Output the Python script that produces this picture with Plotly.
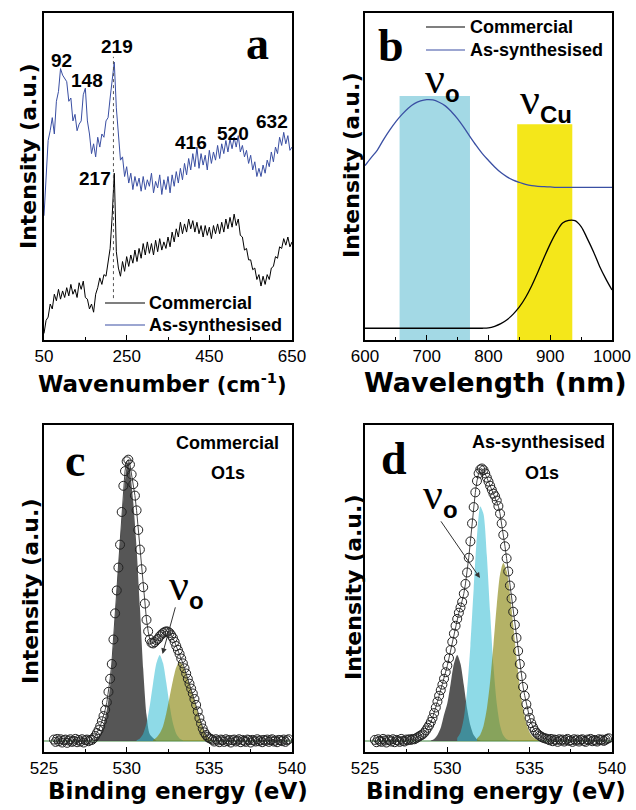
import plotly.graph_objects as go

W, H = 636, 810

# ---------------- Panel a : Raman ----------------
raman_wn = list(range(50, 651, 5))
raman_as_synth = [
    38, 48, 61, 64, 68, 63, 73, 76, 83, 81,
    80, 79, 73, 74, 67, 69, 64, 66, 67, 75,
    77, 67, 63, 57, 60, 56, 62, 59, 63, 62,
    67, 68, 74, 79, 85, 71, 63, 55, 56, 50,
    53, 48, 51, 46, 50, 47, 49.5, 45.5, 50, 46,
    49, 47, 51, 45, 48.5, 46.5, 50.5, 44.5, 49, 46,
    50, 45, 50.5, 47, 51.5, 48, 52.5, 49, 54, 50.5,
    55.5, 52, 57, 53, 59, 52.5, 57, 53.5, 56.5, 52,
    58, 54, 57.5, 55, 59.5, 55.5, 60, 57, 61, 57.5,
    61.5, 58.5, 62, 59, 62.5, 57.5, 59.5, 56, 58, 54,
    56.5, 52, 54.5, 50, 52.5, 50, 53.5, 51, 55, 53,
    57.5, 54.5, 59, 57, 62, 59.5, 63.5, 60, 62.5, 58, 59]
raman_commercial = [
    2, 6, 7, 11, 9.5, 14, 12, 15.5, 12.5, 15,
    13, 16, 13.5, 17, 14, 15.5, 13, 17.5, 15.5, 18,
    13, 12.5, 9.5, 11, 8.5, 14, 16, 19, 17, 20,
    19.5, 24, 28, 38, 51, 27, 22, 19.5, 24, 21,
    25.5, 22.5, 26, 23.5, 27.5, 24, 28, 25, 29.5, 26,
    30, 26.5, 29.5, 26, 30.5, 27, 31, 27.5, 30, 28,
    31.5, 28.5, 33, 30, 34, 31.5, 36, 32.5, 35.5, 33,
    37, 34, 36.5, 33, 36, 32.5, 35, 31.5, 35, 32,
    34.5, 31, 35, 32.5, 35.5, 32.5, 36, 33, 37, 34,
    37.5, 34.5, 38.5, 35, 37, 32, 31.5, 27.5, 28, 24.5,
    24.5, 21.5, 22, 18.5, 20, 16.5, 19.5, 17, 20, 18.5,
    22, 22.5, 25.5, 25, 28.5, 28, 31, 29, 31.5, 28.5, 30]
raman_peak_line_wn = 218
raman_peak_line_span = [12.8, 86.6]
raman_ticks = [50, 250, 450, 650]

# ---------------- Panel b : UV-Vis-NIR ----------------
uv_wl = list(range(600, 1001, 10))
uv_as_synth = [53.3, 55.8, 58.1, 61.3, 64.2, 66.8, 69.0, 70.9, 72.3, 73.1,
               73.5, 73.4, 72.7, 71.6, 69.8, 67.6, 65.0, 62.2, 59.5, 57.0,
               54.9, 52.9, 51.2, 49.9, 48.9, 48.2, 47.6, 47.2, 47.0, 46.9,
               46.8, 46.7, 46.7, 46.7, 46.7, 46.7, 46.7, 46.7, 46.7, 46.7, 46.7]
uv_commercial = [3.6, 3.6, 3.6, 3.6, 3.6, 3.6, 3.6, 3.6, 3.6, 3.6,
                 3.6, 3.6, 3.6, 3.6, 3.6, 3.6, 3.6, 3.6, 3.6, 3.6,
                 3.7, 4.2, 5.0, 6.2, 7.9, 10.1, 13.0, 16.6, 20.8, 25.2,
                 29.4, 33.0, 35.8, 36.6, 36.5, 34.7, 31.0, 27.0, 22.5, 18.7, 15.3]
band_vo = [656, 770, 74.6]
band_vcu = [846.5, 935.7, 66.0]

# ---------------- Panels c, d : XPS O1s ----------------
xps_c_left = [0.4, -0.3, 0.6, -0.1, 0.5, -0.5, 0.2, 0.4, -0.6, 0.1, 0.5, -0.3,
              0.0, 0.6, -0.4, 0.3, -0.2, 0.5, -0.5, 0.2, 0.4, -0.1, 0.3]
xps_c_peak = [0.3, 0.8, 1.5, 2.4, 3.3, 4.5, 6.0, 7.6, 9.5, 11.8,
              15, 19, 23.5, 31, 39, 46, 53, 60, 70, 78,
              82.5, 85.5, 86, 84.5, 81.5, 78.5, 75, 70.5, 64.5, 58.5,
              52.5, 47, 42, 37, 33.5, 31, 30, 29.8, 30.2, 30.8,
              31.2, 32, 32.5, 33, 33.3, 33.5, 33.4, 33, 32.3, 31.5,
              30.3, 29, 27.8, 26.6, 25.2, 23.7, 22.2, 20.6, 19, 17.5,
              16, 14.5, 12.8, 11, 9, 7, 5.3, 3.8, 2.6, 1.8,
              1.2, 0.8]
xps_c_right = [0.6, 0.3, -0.2, 0.5, 0.1, -0.4, 0.4, 0.2, -0.3, 0.5,
               -0.1, 0.3, -0.5, 0.2, 0.4, -0.2, 0.1, 0.5, -0.4, 0.3,
               0.0, -0.3, 0.4, 0.2, -0.5, 0.3, 0.1, -0.2, 0.5, -0.1,
               0.2, -0.4, 0.3, 0.0, 0.4, -0.3, 0.2, 0.5, -0.2, 0.1,
               -0.4, 0.3, 0.2, -0.1, 0.4, -0.3, 0.2, 0.5]
c_gray_x = [528.0, 528.4, 528.8, 529.0, 529.2, 529.4, 529.6, 529.8, 530.0, 530.1,
            530.2, 530.4, 530.6, 530.8, 531.0, 531.2, 531.4, 531.8]
c_gray_y = [0, 2, 9.5, 17, 30, 45, 60, 74, 84, 85.5, 83, 73, 59, 41, 22, 8, 2, 0]
c_cyan_x = [530.6, 530.8, 531.0, 531.2, 531.4, 531.6, 531.8, 532.0, 532.2, 532.4,
            532.6, 532.8, 533.0, 533.2, 533.4]
c_cyan_y = [0.2, 0.75, 2.2, 5.4, 10.8, 17.7, 23.8, 26.3, 23.8, 17.7, 10.8, 5.4, 2.2, 0.75, 0.2]
c_olive_x = [531.6, 531.8, 532.0, 532.2, 532.4, 532.6, 532.8, 533.0, 533.2, 533.4,
             533.6, 533.8, 534.0, 534.2, 534.4, 534.6, 534.8, 535.0, 535.2]
c_olive_y = [0.3, 1.0, 2.3, 4.5, 8.5, 13.5, 18.5, 22.5, 24.3, 23, 20.5, 17.5, 14.5, 11,
             7.5, 4.3, 2, 0.8, 0.2]

xps_d_left = [0.3, -0.4, 0.5, 0.0, -0.3, 0.6, 0.1, -0.5, 0.4, 0.2, -0.2, 0.5,
              -0.4, 0.3, 0.1, -0.3, 0.6, 0.0, -0.2, 0.4, 0.2, 0.5, 0.3, 0.6]
xps_d_peak = [0.5, 0.8, 1.1, 1.4, 1.7, 2.0, 2.5, 3.2, 4.0, 4.8,
              5.8, 7.0, 8.5, 10.2, 12.0, 13.8, 15.5, 17.2, 19.0, 21.0,
              23.0, 25.3, 27.8, 30.3, 32.8, 35.2, 37.3, 39.2, 40.8, 42.5,
              45.0, 48.0, 51.5, 56.0, 61.0, 66.5, 71.5, 76.0, 79.5, 81.8,
              83.0, 83.3, 82.8, 81.8, 80.5, 79.3, 78.0, 76.8, 75.6, 74.8,
              73.5, 71.8, 69.5, 66.5, 63.0, 59.5, 55.8, 51.8, 47.5, 43.5,
              39.5, 35.5, 31.5, 27.5, 23.5, 19.8, 16.5, 13.8, 11.2, 9.0,
              7.0, 5.4, 4.2, 3.2, 2.5, 2.0, 1.6, 1.3, 1.0, 0.8,
              0.7]
xps_d_right = [0.5, 0.2, 0.6, -0.1, 0.4, 0.3, -0.3, 0.5, 0.1, 0.4,
               -0.2, 0.3, 0.6, 0.0, 0.2, -0.3, 0.5, 0.1, 0.4, -0.2,
               0.3, 0.5, 0.0, -0.3, 0.4, 0.2, 0.6, -0.1, 0.3, 0.1,
               -0.2, 0.5, 0.2, 0.4, 0.0, 0.3, 0.6, 0.8]
d_gray_x = [529.0, 529.2, 529.4, 529.6, 529.8, 530.0, 530.2, 530.4, 530.6, 530.8,
            531.0, 531.2, 531.4, 531.6, 531.8, 532.0]
d_gray_y = [0.1, 0.6, 1.8, 4.0, 8.0, 11.5, 17.5, 23.6, 26.3, 23.6, 17.1, 9.9, 4.7, 1.8, 0.5, 0.1]
d_cyan_x = [530.6, 530.8, 531.0, 531.2, 531.4, 531.6, 531.8, 532.0, 532.2, 532.4,
            532.6, 532.8, 533.0, 533.2, 533.4, 533.6, 533.8]
d_cyan_y = [0.85, 2.6, 6.9, 15.5, 29.1, 46.5, 62.7, 71.7, 69.3, 56.7, 39.3, 23.1, 11.5,
            4.8, 1.7, 0.5, 0.1]
d_olive_x = [531.8, 532.0, 532.2, 532.4, 532.6, 532.8, 533.0, 533.2, 533.4, 533.6,
             533.8, 534.0, 534.2, 534.4, 534.6, 534.8, 535.0, 535.2, 535.4, 535.6]
d_olive_y = [0.7, 1.9, 4.6, 9.8, 18.2, 29.4, 41.4, 50.9, 54.5, 52.0, 45.1, 35.6, 25.6,
             16.7, 9.9, 5.4, 2.6, 1.2, 0.5, 0.15]

series_names = ['Commercial', 'As-synthesised']


def seg(start, values, step=0.1):
    return [round(start + step * i, 2) for i in range(len(values))]


xps_c_x = seg(525.6, xps_c_left) + seg(527.9, xps_c_peak) + seg(535.1, xps_c_right)
xps_c_y = xps_c_left + xps_c_peak + xps_c_right
xps_d_x = seg(525.6, xps_d_left) + seg(528.0, xps_d_peak) + seg(536.1, xps_d_right)
xps_d_y = xps_d_left + xps_d_peak + xps_d_right

BLUE = '#3a4fa3'
GRAY_F = 'rgba(72,72,72,0.92)'
CYAN_F = 'rgba(50,188,212,0.55)'
OLIVE_F = 'rgba(130,126,0,0.6)'

fig = go.Figure()

# Panel a
fig.add_trace(go.Scatter(x=raman_wn, y=raman_commercial, mode='lines', name=series_names[0],
                         line=dict(color='black', width=1), xaxis='x', yaxis='y'))
fig.add_trace(go.Scatter(x=raman_wn, y=raman_as_synth, mode='lines', name=series_names[1],
                         line=dict(color=BLUE, width=1), xaxis='x', yaxis='y'))
# Panel b
fig.add_trace(go.Scatter(x=uv_wl, y=uv_commercial, mode='lines', name=series_names[0],
                         line=dict(color='black', width=1.3, shape='spline'),
                         xaxis='x2', yaxis='y2'))
fig.add_trace(go.Scatter(x=uv_wl, y=uv_as_synth, mode='lines', name=series_names[1],
                         line=dict(color=BLUE, width=1.3, shape='spline'),
                         xaxis='x2', yaxis='y2'))

# Panels c, d
for (ax, ay, comps, dx, dy) in [
    ('x3', 'y3', [(c_gray_x, c_gray_y, GRAY_F), (c_cyan_x, c_cyan_y, CYAN_F),
                  (c_olive_x, c_olive_y, OLIVE_F)], xps_c_x, xps_c_y),
    ('x4', 'y4', [(d_gray_x, d_gray_y, GRAY_F), (d_cyan_x, d_cyan_y, CYAN_F),
                  (d_olive_x, d_olive_y, OLIVE_F)], xps_d_x, xps_d_y)]:
    for cx, cy, col in comps:
        fig.add_trace(go.Scatter(x=cx, y=cy, mode='lines', fill='tozeroy', fillcolor=col,
                                 line=dict(width=0, shape='spline', smoothing=0.7),
                                 xaxis=ax, yaxis=ay, hoverinfo='skip'))
    fig.add_trace(go.Scatter(x=dx, y=dy, mode='lines+markers',
                             line=dict(color='#4a4a4a', width=1),
                             marker=dict(symbol='circle-open', size=9, color='#222',
                                         line=dict(width=1)),
                             xaxis=ax, yaxis=ay))

left_dom = [44 / W, 292 / W]
right_dom = [365 / W, 612 / W]
top_dom = [1 - 340 / H, 1 - 13 / H]
bot_dom = [1 - 752 / H, 1 - 425 / H]

tickfont = dict(family='Liberation Sans, Arial', size=17, color='black')


def minor_ticks(**kw):
    d = dict(ticks='inside', ticklen=3, tickwidth=1, tickcolor='black')
    d.update(kw)
    return d


def xax(dom, anchor, rng, **kw):
    d = dict(domain=dom, anchor=anchor, range=rng, showline=True, linecolor='black',
             linewidth=1.5, mirror=True, ticks='inside', ticklen=5, tickwidth=1.2,
             tickcolor='black', tickfont=tickfont, showgrid=False, zeroline=False,
             automargin=False)
    d.update(kw)
    return d


def yax(dom, anchor, rng):
    return dict(domain=dom, anchor=anchor, range=rng, showline=True, linecolor='black',
                linewidth=1.5, mirror=True, ticks='', showticklabels=False,
                showgrid=False, zeroline=False, automargin=False)


fig.update_layout(
    width=W, height=H, margin=dict(l=0, r=0, t=0, b=0, autoexpand=False),
    paper_bgcolor='white', plot_bgcolor='white', showlegend=False,
    xaxis=xax(left_dom, 'y', [50, 650], tickvals=raman_ticks,
              minor=minor_ticks(tickvals=[150, 350, 550])),
    yaxis=yax(top_dom, 'x', [0, 100]),
    xaxis2=xax(right_dom, 'y2', [600, 1000], dtick=100, minor=minor_ticks(dtick=50)),
    yaxis2=yax(top_dom, 'x2', [0, 100]),
    xaxis3=xax(left_dom, 'y3', [525, 540], dtick=5, minor=minor_ticks(dtick=2.5)),
    yaxis3=yax(bot_dom, 'x3', [-3.4, 96.6]),
    xaxis4=xax(right_dom, 'y4', [525, 540], dtick=5, minor=minor_ticks(dtick=2.5)),
    yaxis4=yax(bot_dom, 'x4', [-3.4, 96.6]),
)

# Shapes: shaded bands (b), dashed marker (a), baselines (c, d)
shapes = [
    dict(type='rect', xref='x2', yref='y2', x0=band_vo[0], x1=band_vo[1], y0=0, y1=band_vo[2],
         fillcolor='#a3d9e5', line=dict(width=0), layer='below'),
    dict(type='rect', xref='x2', yref='y2', x0=band_vcu[0], x1=band_vcu[1], y0=0, y1=band_vcu[2],
         fillcolor='#f4e71a', line=dict(width=0), layer='below'),
    dict(type='line', xref='x', yref='y', x0=raman_peak_line_wn, x1=raman_peak_line_wn,
         y0=raman_peak_line_span[0], y1=raman_peak_line_span[1],
         line=dict(color='#555', width=1, dash='dot')),
    dict(type='line', xref='x3', yref='y3', x0=525, x1=540, y0=0, y1=0,
         line=dict(color='#7fae7f', width=1.5), layer='below'),
    dict(type='line', xref='x4', yref='y4', x0=525, x1=540, y0=0, y1=0,
         line=dict(color='#7fae7f', width=1.5), layer='below'),
]

ann = []


def txt(t, xp, yp, size, family='Liberation Sans, Arial', bold=True, angle=0, anchor='center'):
    ann.append(dict(text=('<b>%s</b>' % t) if bold else t, x=xp / W, y=1 - yp / H,
                    xref='paper', yref='paper', showarrow=False, xanchor=anchor,
                    yanchor='middle', textangle=angle,
                    font=dict(family=family, size=size, color='black')))


# legends (drawn manually to match the original key layout)
for (x0, x1, tx, rows) in [(105, 145, 147, (303, 325)), (426, 465, 468, (27, 50))]:
    for name, col, yp in zip(series_names, ['black', BLUE], rows):
        shapes.append(dict(type='line', xref='paper', yref='paper', x0=x0 / W, x1=x1 / W,
                           y0=1 - yp / H, y1=1 - yp / H, line=dict(color=col, width=1.2)))
        txt(name, tx, yp, 18, anchor='left')
fig.update_layout(shapes=shapes)

SERIF = 'Liberation Serif, Times New Roman'
TITLE = 'DejaVu Sans'
# panel letters
txt('a', 257, 43, 46, SERIF)
txt('b', 391, 45, 46, SERIF)
txt('c', 75, 460, 46, SERIF)
txt('d', 394, 458, 46, SERIF)
# peak labels (a)
for t, xp, yp in [('92', 61, 61), ('148', 87, 80), ('219', 117, 47), ('416', 191, 143),
                  ('520', 233, 133), ('632', 272, 122), ('217', 95, 178)]:
    txt(t, xp, yp, 19)


# nu labels (nu with a bold sans subscript, as one text)
def nu(sub, xleft, yp):
    t = ("ν<sub><span style='font-family:Liberation Sans, Arial;font-weight:bold;"
         "font-size:24px'>%s</span></sub>" % sub)
    ann.append(dict(text=t, x=xleft / W, y=1 - yp / H, xref='paper', yref='paper',
                    showarrow=False, xanchor='left', yanchor='middle',
                    font=dict(family=SERIF, size=44, color='black')))


nu('o', 423, 80)
nu('Cu', 518, 102)
nu('o', 167, 587)
nu('o', 421, 496)
# sample labels
txt('Commercial', 228, 443, 18)
txt('O1s', 228, 473, 18)
txt('As-synthesised', 538, 442, 18)
txt('O1s', 542, 473, 18)
# axis titles
txt("Wavenumber <span style='font-size:21px'>(cm<sup>-1</sup>)</span>", 162, 383, 23, TITLE)
txt('Wavelength (nm)', 495, 383, 27, TITLE)
txt('Binding energy (eV)', 178, 791, 23, TITLE)
txt('Binding energy (eV)', 496, 791, 23, TITLE)
for xp, yp in [(28, 157), (351, 166), (30, 592), (353, 588)]:
    txt('Intensity (a.u.)', xp, yp, 22, TITLE, angle=-90)

# arrows (c, d)
ann.append(dict(x=532.17, y=26.6, ax=532.97, ay=41.3, xref='x3', yref='y3', axref='x3',
                ayref='y3', showarrow=True, arrowhead=2, arrowsize=1.1, arrowwidth=1,
                arrowcolor='#333', text=''))
ann.append(dict(x=531.98, y=49.8, ax=529.55, ay=67.6, xref='x4', yref='y4', axref='x4',
                ayref='y4', showarrow=True, arrowhead=2, arrowsize=1.1, arrowwidth=1,
                arrowcolor='#333', text=''))
fig.update_layout(annotations=ann)

fig.write_html('out.html')
